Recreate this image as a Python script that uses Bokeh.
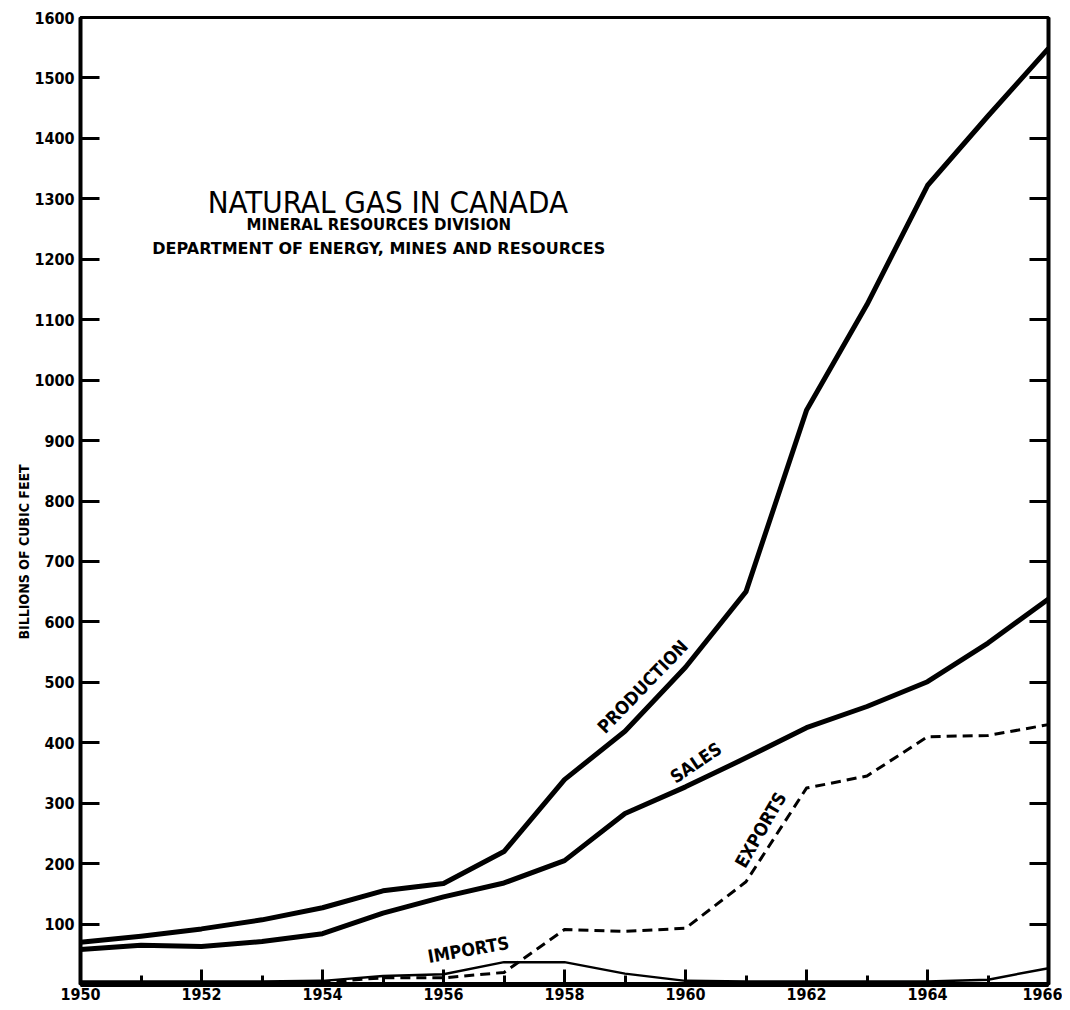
from bokeh.plotting import figure
from bokeh.models import FixedTicker, LinearAxis, Range1d, Title
from bokeh.core.properties import value
from bokeh.embed import file_html
from bokeh.resources import INLINE

years = list(range(1950, 1967))
production = [70, 80, 92, 107, 127, 155, 167, 220, 339, 419, 525, 650, 950, 1125, 1322, 1437, 1549]
sales = [58, 65, 63, 71, 84, 118, 145, 168, 205, 283, 327, 375, 425, 460, 501, 565, 638]
exports = [3, 3, 3, 3, 4, 11, 11, 20, 91, 88, 93, 170, 325, 345, 410, 412, 430]
imports = [5, 5, 5, 5, 6, 14, 17, 37, 37, 18, 6, 5, 5, 5, 5, 8, 27]

y_ticks = [100, 200, 300, 400, 500, 600, 700, 800, 900, 1000, 1100, 1200, 1300, 1400, 1500, 1600]
x_major = [1950, 1952, 1954, 1956, 1958, 1960, 1962, 1964, 1966]
x_minor = [1951, 1953, 1955, 1957, 1959, 1961, 1963, 1965]

title_lines = ["NATURAL GAS IN CANADA", "MINERAL RESOURCES DIVISION",
               "DEPARTMENT OF ENERGY, MINES AND RESOURCES"]
series_labels = ["PRODUCTION", "SALES", "EXPORTS", "IMPORTS"]
label_x = [1959.29, 1960.17, 1961.24, 1956.41]
label_y = [493, 367, 256, 58]
label_angle = [46, 34, 60, 10]

NARROW = "Liberation Sans Narrow, DejaVu Sans Condensed, sans-serif"

p = figure(frame_width=968, frame_height=967, output_backend="svg", toolbar_location=None,
           x_range=Range1d(1950, 1966), y_range=Range1d(0, 1600),
           min_border_left=80, min_border_top=17, min_border_right=14, min_border_bottom=20)
p.xgrid.visible = False
p.ygrid.visible = False
p.outline_line_color = "black"
p.outline_line_width = 3
p.background_fill_color = "white"
p.border_fill_color = "white"

# bottom axis
xa = p.xaxis[0]
xa.ticker = FixedTicker(ticks=x_major, minor_ticks=x_minor)
xa.major_tick_in = 15
xa.major_tick_out = 0
xa.minor_tick_in = 9
xa.minor_tick_out = 0
xa.major_tick_line_width = 3
xa.minor_tick_line_width = 3
xa.axis_line_width = 5
xa.major_label_text_font = NARROW
xa.major_label_text_font_style = "bold"
xa.major_label_text_font_size = "16px"
xa.major_label_text_color = "black"
xa.major_label_standoff = 3

# left axis
ya = p.yaxis[0]
ya.ticker = FixedTicker(ticks=y_ticks)
ya.major_tick_in = 19
ya.major_tick_out = 0
ya.minor_tick_line_color = None
ya.major_tick_line_width = 3
ya.axis_line_width = 4
ya.major_label_text_font = NARROW
ya.major_label_text_font_style = "bold"
ya.major_label_text_font_size = "16px"
ya.major_label_text_color = "black"
ya.major_label_standoff = 6

# right axis (ticks only)
ra = LinearAxis(ticker=FixedTicker(ticks=y_ticks[:-1]))
ra.major_tick_in = 19
ra.major_tick_out = 0
ra.minor_tick_line_color = None
ra.major_tick_line_width = 3
ra.axis_line_width = 4
ra.major_label_text_font_size = "0px"
ra.major_label_text_alpha = 0
ra.major_label_standoff = 0
p.add_layout(ra, "right")

# y-axis caption, placed in the left panel
ytitle = Title(text="BILLIONS OF CUBIC FEET", align="left", offset=345,
               text_font=NARROW, text_font_style="bold", text_font_size="14px",
               text_color="black", standoff=0)
p.add_layout(ytitle, "left")

p.line(years, production, line_color="black", line_width=5, line_join="round")
p.line(years, sales, line_color="black", line_width=5, line_join="round")
p.line(years, imports, line_color="black", line_width=2.5, line_join="round")
p.line(years, exports, line_color="black", line_width=3, line_dash="10 6", line_join="round")

p.text(x=label_x, y=label_y, text=series_labels, angle=label_angle, angle_units="deg",
       text_font=value(NARROW), text_font_style="bold", text_font_size="18px",
       text_align="center", text_baseline="middle", text_color="black")

p.text(x=[1955.08], y=[1295], text=[title_lines[0]], text_font=value(NARROW),
       text_font_size="31px", text_align="center", text_baseline="middle", text_color="black")
p.text(x=[1954.93], y=[1256], text=[title_lines[1]],
       text_font=value("DejaVu Sans"), text_font_style="bold", text_font_size="15px",
       text_align="center", text_baseline="middle", text_color="black")
p.text(x=[1954.93], y=[1218], text=[title_lines[2]],
       text_font=value("DejaVu Sans"), text_font_style="bold", text_font_size="16px",
       text_align="center", text_baseline="middle", text_color="black")

open("out.html", "w").write(file_html(p, INLINE))
